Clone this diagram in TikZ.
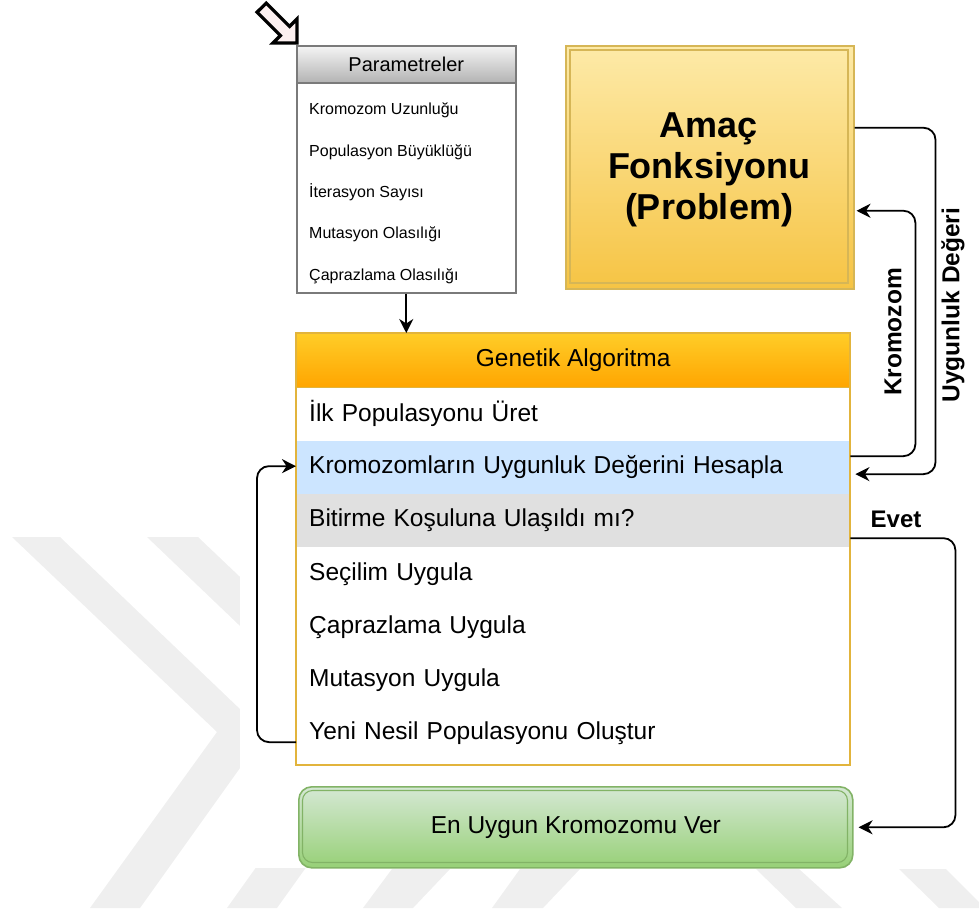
\documentclass[tikz,border=0pt]{standalone}
\usepackage{fontspec}
\setmainfont{Liberation Sans}
\usetikzlibrary{arrows.meta}

\definecolor{wmgray}{HTML}{EFEFEF}
\definecolor{goldline}{HTML}{D6B656}
\definecolor{galine}{HTML}{E2B43C}
\definecolor{orangetop}{HTML}{FFCD28}
\definecolor{orangebot}{HTML}{FFA500}
\definecolor{yellowtop}{HTML}{FDEAA8}
\definecolor{yellowbot}{HTML}{F6C444}
\definecolor{rowblue}{HTML}{CCE5FF}
\definecolor{rowgray}{HTML}{E0E0E0}
\definecolor{greentop}{HTML}{D5E8D4}
\definecolor{greenbot}{HTML}{97D077}
\definecolor{greenline}{HTML}{82B366}
\definecolor{paramline}{HTML}{7A7A7A}
\definecolor{graytop}{HTML}{F5F5F5}
\definecolor{graybot}{HTML}{B3B3B3}
\definecolor{iconfill}{HTML}{FCF0F0}

\begin{document}
\begin{tikzpicture}[x=1bp,y=-1bp,
  conn/.style={line width=1.8bp, rounded corners=12bp,
    -{Stealth[length=14bp,width=14bp,inset=4.5bp]}},
  rowbox/.style={anchor=north west, minimum width=554bp, minimum height=53.3bp,
    text width=528bp, inner xsep=13bp, inner ysep=0pt, align=left,
    font=\fontsize{24.5bp}{28bp}\selectfont},
  itemtext/.style={anchor=base west, inner sep=0pt,
    font=\fontsize{16bp}{19bp}\selectfont},
  vlabel/.style={inner sep=0pt, rotate=90,
    font=\fontsize{24.5bp}{28bp}\selectfont\bfseries},
  wm/.style={fill=wmgray, draw=none},
]
\useasboundingbox (0,0) rectangle (979,913);

% background watermark: chevron bands and bottom stripes
\path[wm] (12,537) -- (60,537) -- (265,733) -- (140,908) -- (90,908) -- (217,732) -- cycle;
\path[wm] (147,537) -- (198,537) -- (403,732) -- (277,908) -- (227,908) -- (352,733) -- cycle;
\path[wm] (392,869) -- (450,869) -- (413,908) -- (363,908) -- cycle;
\path[wm] (520,869) -- (580,869) -- (543,908) -- (492,908) -- cycle;
\path[wm] (756,869) -- (799,869) -- (842,908) -- (796,908) -- cycle;
\path[wm] (899,869) -- (946,869) -- (985,908) -- (939,908) -- cycle;
\fill[white] (240,0) rectangle (979,868);

% hollow pointer arrow
\draw[line width=3.2bp, fill=iconfill, line join=miter]
  (297,43) -- (297,19) -- (289.6,26.4) -- (266.2,3.2) -- (257,12.2)
  -- (280.4,35.6) -- (273,43) -- cycle;

% parameter list
\node (par) [anchor=north west, draw=paramline, line width=1.5bp,
  minimum width=219bp, minimum height=247bp, inner sep=0pt] at (296,45) {};
\node (parhead) [anchor=north west, draw=paramline, line width=1.5bp,
  top color=graytop, bottom color=graybot,
  minimum width=219bp, minimum height=37bp, inner sep=0pt,
  font=\fontsize{20bp}{24bp}\selectfont] at (296,45) {Parametreler};
\node (p1) [itemtext] at (309,114) {Kromozom Uzunluğu};
\node (p2) [itemtext] at (309,156.5) {Populasyon Büyüklüğü};
\node (p3) [itemtext] at (309,197) {İterasyon Sayısı};
\node (p4) [itemtext] at (309,238) {Mutasyon Olasılığı};
\node (p5) [itemtext] at (309,280) {Çaprazlama Olasılığı};

% objective function box (double border)
\node (amac) [anchor=north west, draw=goldline, line width=1.5bp,
  top color=yellowtop, bottom color=yellowbot,
  minimum width=288bp, minimum height=243bp, inner sep=0pt] at (565,45) {};
\draw[goldline, line width=1.2bp] (570,50) rectangle (848,283);
\node (amactext) [inner sep=0pt, align=center,
  font=\fontsize{36bp}{41bp}\selectfont\bfseries]
  at (709,170) {Amaç\\Fonksiyonu\\(Problem)};

% genetic algorithm box
\node (gahead) [anchor=north west, top color=orangetop, bottom color=orangebot,
  minimum width=554bp, minimum height=54bp, inner sep=0pt,
  font=\fontsize{24.5bp}{28bp}\selectfont] at (296,333) {Genetik Algoritma};
\node (r1) [rowbox] at (296,387) {İlk Populasyonu Üret};
\node (r2) [rowbox, fill=rowblue] at (296,440.3) {Kromozomların Uygunluk Değerini Hesapla};
\node (r3) [rowbox, fill=rowgray] at (296,493.6) {Bitirme Koşuluna Ulaşıldı mı?};
\node (r4) [rowbox] at (296,546.9) {Seçilim Uygula};
\node (r5) [rowbox] at (296,600.2) {Çaprazlama Uygula};
\node (r6) [rowbox] at (296,653.5) {Mutasyon Uygula};
\node (r7) [rowbox] at (296,706.8) {Yeni Nesil Populasyonu Oluştur};
\draw[galine, line width=1.5bp] (gahead.north west) rectangle (850,765);
\draw[galine, line width=1.2bp] (gahead.south west) -- (gahead.south east);

% result box (double rounded border)
\node (best) [anchor=north west, draw=greenline, line width=1.6bp, rounded corners=13bp,
  top color=greentop, bottom color=greenbot,
  minimum width=554bp, minimum height=81bp, inner sep=0pt,
  font=\fontsize{24.5bp}{28bp}\selectfont] at (298,786) {En Uygun Kromozomu Ver};
\draw[greenline, line width=1.1bp, rounded corners=10bp] (302.5,790.5) rectangle (847.5,862.5);

% connectors
\draw[conn] (par.south) -- (par.south |- gahead.north);
\draw[conn, shorten >=5bp] ([yshift=39.5bp]amac.east) -- ++(81,0) |- ([yshift=-7bp]r2.east);
\draw[conn, shorten >=2bp] ([yshift=11bp]r2.east) -- ++(65,0) |- ([yshift=-43.5bp]amac.east);
\draw[conn, shorten >=5bp] ([yshift=-17.7bp]r3.east) -- ++(105,0) |- (best.east);
\draw[conn] ([yshift=-8.5bp]r7.west) -- ++(-39,0) |- ([yshift=1bp]r2.west);

% connector labels
\node (lfit) [vlabel] at (953,305) {Uygunluk Değeri};
\node (lchr) [vlabel] at (893,332) {Kromozom};
\node (lyes) [inner sep=0pt, font=\fontsize{24bp}{28bp}\selectfont\bfseries] at (896,519) {Evet};
\end{tikzpicture}
\end{document}
